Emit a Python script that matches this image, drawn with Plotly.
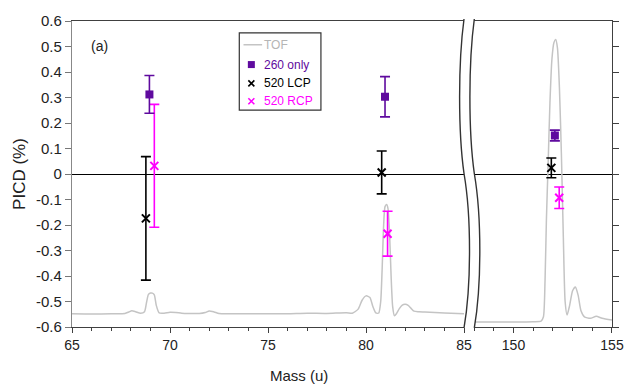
import plotly.graph_objects as go

# ---------------- data ----------------
# TOF spectrum (scaled onto the PICD axis), left segment 65-85 u
tof_left_mass = [65.0, 66.0, 67.0, 67.7, 67.9, 68.05, 68.25, 68.5, 68.7, 68.8, 68.9, 69.0, 69.1, 69.2, 69.3,
                 69.45, 69.7, 70.0, 70.3, 70.6, 71.0, 71.5, 71.8, 72.0, 72.25, 72.5, 73.0, 74.0, 75.0, 76.0,
                 77.0, 78.0, 79.0, 79.3, 79.6, 79.8, 80.0, 80.2, 80.35, 80.5, 80.65, 80.75, 80.82, 80.9,
                 80.97, 81.05, 81.12, 81.2, 81.28, 81.36, 81.45, 81.55, 81.7, 81.85, 82.0, 82.15, 82.3,
                 82.45, 82.7, 83.0, 84.0, 85.0]
tof_left_val = [-0.548, -0.549, -0.548, -0.547, -0.541, -0.536, -0.540, -0.546, -0.540, -0.505, -0.472, -0.467,
                -0.467, -0.474, -0.515, -0.545, -0.546, -0.542, -0.543, -0.546, -0.547, -0.547, -0.543, -0.537,
                -0.541, -0.547, -0.548, -0.548, -0.548, -0.548, -0.546, -0.547, -0.544, -0.546, -0.530, -0.495,
                -0.478, -0.484, -0.520, -0.545, -0.545, -0.500, -0.380, -0.200, -0.128, -0.120, -0.135, -0.230,
                -0.400, -0.520, -0.556, -0.548, -0.528, -0.514, -0.511, -0.515, -0.527, -0.538, -0.540, -0.541,
                -0.545, -0.548]
# right segment 148-155 u
tof_right_mass = [148.0, 149.0, 150.0, 151.0, 151.4, 151.52, 151.6, 151.67, 151.75, 151.85, 151.95, 152.05,
                  152.14, 152.23, 152.33, 152.43, 152.53, 152.62, 152.72, 152.85, 153.0, 153.14, 153.28,
                  153.42, 153.6, 153.9, 154.2, 154.5, 155.0]
tof_right_val = [-0.580, -0.580, -0.580, -0.579, -0.577, -0.560, -0.420, -0.180, 0.020, 0.280, 0.450, 0.515,
                 0.527, 0.495, 0.340, 0.080, -0.250, -0.500, -0.553, -0.515, -0.458, -0.443, -0.475, -0.535,
                 -0.560, -0.566, -0.558, -0.566, -0.573]

# PICD data points (%)
p260_mass = [68.95, 80.97, 152.1]
p260_val = [0.312, 0.303, 0.151]
p260_err = [0.074, 0.079, 0.021]

lcp_mass = [68.77, 80.8, 151.92]
lcp_val = [-0.174, 0.006, 0.024]
lcp_err = [0.242, 0.084, 0.039]

rcp_mass = [69.2, 81.1, 152.32]
rcp_val = [0.032, -0.234, -0.093]
rcp_err = [0.241, 0.088, 0.042]

y_ticks = [-0.6, -0.5, -0.4, -0.3, -0.2, -0.1, 0.0, 0.1, 0.2, 0.3, 0.4, 0.5, 0.6]
y_tick_text = ["-0.6", "-0.5", "-0.4", "-0.3", "-0.2", "-0.1", "0", "0.1", "0.2", "0.3", "0.4", "0.5", "0.6"]
x_left_ticks = [65, 70, 75, 80, 85]
x_right_ticks = [150, 155]

legend_names = ["TOF", "260 only", "520 LCP", "520 RCP"]

# ---------------- style ----------------
PURPLE = "#5f0a9e"
MAGENTA = "#ff00ff"
BLACK = "#000000"
GRAY = "#c4c4c4"
AXIS = "#404040"

W, H = 636, 391
ML, MR, MT, MB = 72, 13, 18, 64
PW, PH = W - ML - MR, H - MT - MB


def px(x):
    return (x - ML) / PW


def py(y):
    return (H - MB - y) / PH


left_dom = [0, 400 / PW]
right_dom = [(482.3 - ML) / PW, 1]

fig = go.Figure()

# TOF traces
fig.add_trace(go.Scatter(x=tof_left_mass, y=tof_left_val, mode="lines",
                         line=dict(color=GRAY, width=1.5, shape="spline", smoothing=0.6),
                         xaxis="x", yaxis="y", showlegend=False, hoverinfo="skip"))
fig.add_trace(go.Scatter(x=tof_right_mass, y=tof_right_val, mode="lines",
                         line=dict(color=GRAY, width=1.5, shape="spline", smoothing=0.6),
                         xaxis="x2", yaxis="y2", showlegend=False, hoverinfo="skip"))


def split(mass, vals, errs):
    L = [(m, v, e) for m, v, e in zip(mass, vals, errs) if m <= 85]
    R = [(m, v, e) for m, v, e in zip(mass, vals, errs) if m > 85]
    return L, R


series = [
    (lcp_mass, lcp_val, lcp_err, BLACK, dict(symbol="x-thin", size=8, line=dict(width=2, color=BLACK), color=BLACK)),
    (rcp_mass, rcp_val, rcp_err, MAGENTA, dict(symbol="x-thin", size=8, line=dict(width=2, color=MAGENTA), color=MAGENTA)),
    (p260_mass, p260_val, p260_err, PURPLE, dict(symbol="square", size=8, color=PURPLE)),
]
for mass, vals, errs, col, mk in series:
    L, R = split(mass, vals, errs)
    for part, xa, ya in [(L, "x", "y"), (R, "x2", "y2")]:
        if not part:
            continue
        fig.add_trace(go.Scatter(
            x=[p[0] for p in part], y=[p[1] for p in part], mode="markers",
            marker=mk,
            error_y=dict(type="data", array=[p[2] for p in part], visible=True,
                         color=col, thickness=1.6, width=5),
            xaxis=xa, yaxis=ya, showlegend=False, hoverinfo="skip"))

# ---------- manual legend ----------
leg_left, leg_right, leg_top, leg_bot = 242.7, 326, 30, 108
item_y = [42, 62, 81, 99]
sym_x = 255
text_x = 266

fig.add_shape(type="rect", xref="paper", yref="paper",
              x0=px(leg_left), x1=px(leg_right), y0=py(leg_bot), y1=py(leg_top),
              line=dict(color="#333333", width=1.2), fillcolor="white", layer="below")
fig.add_shape(type="line", xref="paper", yref="paper",
              x0=px(247), x1=px(266), y0=py(item_y[0]), y1=py(item_y[0]),
              line=dict(color=GRAY, width=1.5), layer="above")

leg_syms = [None,
            dict(symbol="square", size=7, color=PURPLE),
            dict(symbol="x-thin", size=6, line=dict(width=1.6, color=BLACK), color=BLACK),
            dict(symbol="x-thin", size=6, line=dict(width=1.6, color=MAGENTA), color=MAGENTA)]
for i in range(1, 4):
    fig.add_trace(go.Scatter(x=[px(sym_x)], y=[py(item_y[i])], mode="markers", marker=leg_syms[i],
                             xaxis="x3", yaxis="y3", showlegend=False, hoverinfo="skip"))

leg_colors = ["#b5b5b5", PURPLE, BLACK, MAGENTA]
for name, yy, c in zip(legend_names, item_y, leg_colors):
    fig.add_annotation(x=px(text_x), y=py(yy), xref="paper", yref="paper", text=name,
                       showarrow=False, xanchor="left", yanchor="middle",
                       font=dict(family="Liberation Sans, Arial", size=12, color=c))

# panel label
fig.add_annotation(x=px(89), y=py(43), xref="paper", yref="paper", text="(a)", showarrow=False,
                   xanchor="left", yanchor="middle",
                   font=dict(family="Liberation Sans, Arial", size=14, color="#222222"))

# axis title Mass (u)
fig.add_annotation(x=px(304), y=py(376), xref="paper", yref="paper", text="Mass (u)", showarrow=False,
                   xanchor="center", yanchor="middle",
                   font=dict(family="Liberation Sans, Arial", size=15, color="#222222"))

# ---------- axis break marks ----------
def P(x, y):
    return f"{px(x):.5f},{py(y):.5f}"


def curve(dx):
    return (f"M {P(472 + dx, 16)} C {P(466 + dx, 60)} {P(466 + dx, 130)} {P(472 + dx, 172)} "
            f"C {P(479.5 + dx, 215)} {P(479.5 + dx, 285)} {P(472 + dx, 328)}")


def curve_rev(dx):
    return (f"L {P(472 + dx, 328)} C {P(479.5 + dx, 285)} {P(479.5 + dx, 215)} {P(472 + dx, 172)} "
            f"C {P(466 + dx, 130)} {P(466 + dx, 60)} {P(472 + dx, 16)} Z")


fig.add_shape(type="path", xref="paper", yref="paper", path=curve(0) + " " + curve_rev(10.5),
              fillcolor="white", line=dict(width=0), layer="above")
for dx in (0, 10.5):
    fig.add_shape(type="path", xref="paper", yref="paper", path=curve(dx),
                  line=dict(color="#333333", width=1.4), layer="above")

tickfont = dict(family="Liberation Sans, Arial", size=14, color="#222222")
ytickfont = dict(family="Liberation Sans, Arial", size=15, color="#222222")

fig.update_layout(
    width=W, height=H,
    margin=dict(l=ML, r=MR, t=MT, b=MB),
    paper_bgcolor="white", plot_bgcolor="rgba(0,0,0,0)",
    showlegend=False,
    xaxis=dict(domain=left_dom, range=[65, 85], anchor="y", tickvals=x_left_ticks,
               ticks="outside", ticklen=5, tickwidth=1, tickcolor=AXIS,
               minor=dict(dtick=1, tick0=65, ticks="outside", ticklen=3, tickcolor=AXIS),
               showline=True, linecolor=AXIS, linewidth=1.2, mirror=True,
               showgrid=False, zeroline=False, tickfont=tickfont),
    xaxis2=dict(domain=right_dom, range=[148, 155], anchor="y2", tickvals=x_right_ticks,
                ticks="outside", ticklen=5, tickwidth=1, tickcolor=AXIS,
                minor=dict(dtick=1, tick0=148, ticks="outside", ticklen=3, tickcolor=AXIS),
                showline=True, linecolor=AXIS, linewidth=1.2, mirror=True,
                showgrid=False, zeroline=False, tickfont=tickfont),
    yaxis=dict(domain=[0, 1], range=[-0.6, 0.6], anchor="x", tickvals=y_ticks, ticktext=y_tick_text,
               ticks="outside", ticklen=6, tickcolor="#777777", showline=True, linecolor="#888888",
               linewidth=1.2, showgrid=False, zeroline=True, zerolinecolor=BLACK, zerolinewidth=1.4,
               tickfont=ytickfont,
               title=dict(text="PICD (%)", font=dict(family="Liberation Sans, Arial", size=17, color="#222222"),
                          standoff=6)),
    yaxis2=dict(domain=[0, 1], range=[-0.6, 0.6], anchor="x2", side="right", tickvals=y_ticks,
                showticklabels=False, ticks="outside", ticklen=6, tickcolor=AXIS, showline=True,
                linecolor=AXIS, linewidth=1.2, showgrid=False, zeroline=True, zerolinecolor=BLACK,
                zerolinewidth=1.4),
    xaxis3=dict(domain=[0, 1], range=[0, 1], anchor="y3", visible=False, fixedrange=True),
    yaxis3=dict(domain=[0, 1], range=[0, 1], anchor="x3", visible=False, fixedrange=True),
)

fig.write_html("out.html")
